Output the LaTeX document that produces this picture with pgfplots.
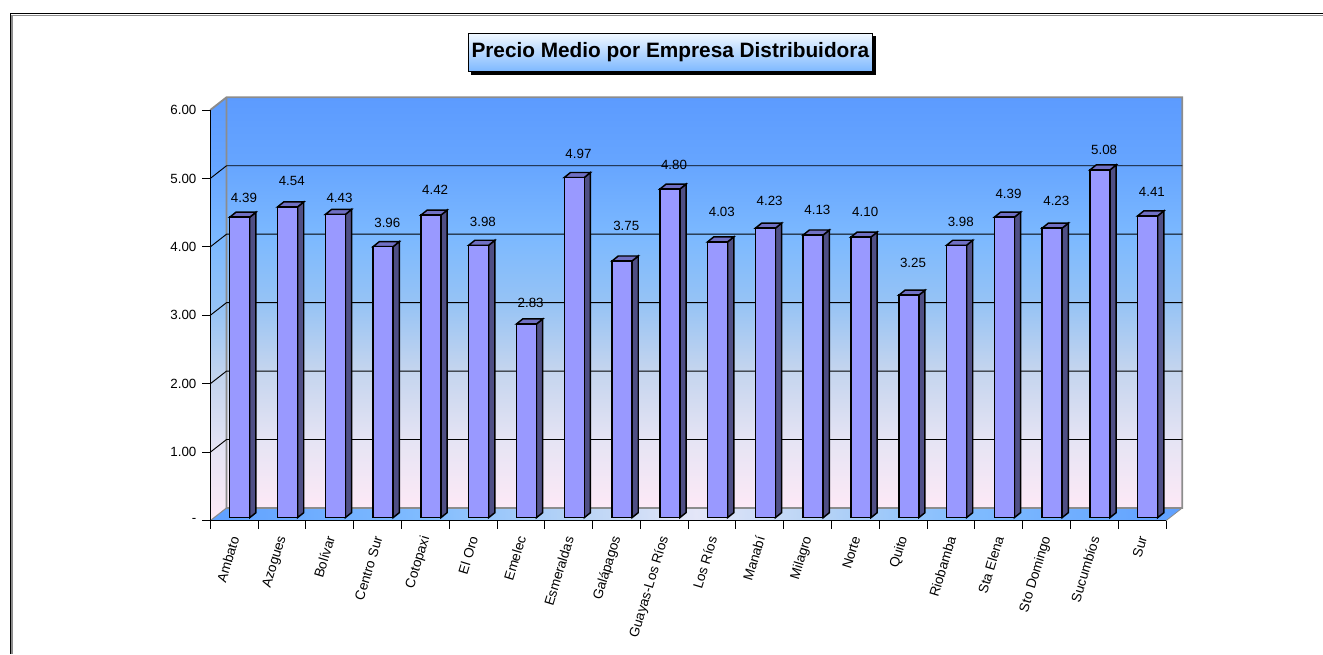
\documentclass[border=0pt]{standalone}
\usepackage{fontspec}
\setmainfont{Liberation Sans}
\usepackage{pgfplots}
\usepackage{pgfplotstable}
\pgfplotsset{compat=1.18}

\definecolor{barfront}{HTML}{9999FF}
\definecolor{barside}{HTML}{4F4F85}
\definecolor{bartop}{HTML}{7070C4}
\definecolor{wallline}{HTML}{8C8C8C}

\definecolor{wa}{RGB}{253,233,246}
\definecolor{wb}{RGB}{230,228,244}
\definecolor{wc}{RGB}{195,212,238}
\definecolor{wd}{RGB}{150,195,245}
\definecolor{we}{RGB}{124,185,255}
\definecolor{wf}{RGB}{102,165,255}
\definecolor{wg}{RGB}{92,155,255}
\definecolor{fa}{RGB}{95,160,255}
\definecolor{fb}{RGB}{128,188,255}
\definecolor{fc}{RGB}{185,212,245}
\definecolor{fd}{RGB}{228,230,248}
\definecolor{ta}{RGB}{125,184,255}
\definecolor{tb}{RGB}{240,248,255}

% stops run from 25bp (bottom of the path) to 75bp (top)
\pgfdeclareverticalshading{wall}{100bp}{
  color(0bp)=(wa); color(25bp)=(wa); color(33bp)=(wb); color(42bp)=(wc);
  color(50bp)=(wd); color(58bp)=(we); color(67bp)=(wf); color(75bp)=(wg);
  color(100bp)=(wg)}
\pgfdeclarehorizontalshading{floorband}{100bp}{
  color(0bp)=(fa); color(25bp)=(fa); color(36bp)=(fb); color(44bp)=(fc);
  color(50bp)=(fd); color(56bp)=(fc); color(64bp)=(fb); color(75bp)=(fa);
  color(100bp)=(fa)}
\pgfdeclareverticalshading{titleband}{100bp}{
  color(0bp)=(ta); color(25bp)=(ta); color(75bp)=(tb); color(100bp)=(tb)}

% x = bar index, v = value, ly = pixel row of the value label
\pgfplotstableread{
x  v    ly
0  4.39 198
1  4.54 181
2  4.43 198
3  3.96 223
4  4.42 190
5  3.98 222
6  2.83 303
7  4.97 154
8  3.75 226
9  4.80 165
10 4.03 212
11 4.23 201
12 4.13 210
13 4.10 212
14 3.25 263
15 3.98 222
16 4.39 194
17 4.23 201
18 5.08 150
19 4.41 192
}\precios

\begin{document}
\begin{tikzpicture}
  \useasboundingbox (0,0) rectangle (992.25pt,490.5pt);

  % page frame and title box, in pixel rows and columns of the reference
  \begin{scope}[x=0.75pt,y=-0.75pt,shift={(0pt,490.5pt)}]
    \draw[wallline,line width=1pt] (12,654) -- (12,15.5) -- (1323,15.5);
    \draw[black,line width=1.2pt] (10.5,654) -- (10.5,13.5) -- (1323,13.5);
    \fill[black] (471,36.5) rectangle (875.7,74.7);
    \shade[shading=titleband] (468,33.3) rectangle (872.7,71.7);
    \draw[black,line width=0.75pt] (468,33.3) rectangle (872.7,71.7);
    \node[font=\bfseries\fontsize{15.6pt}{18pt}\selectfont] at (670.3,52.5)
      {Precio Medio por Empresa Distribuidora};
  \end{scope}

  \begin{axis}[
    at={(157.7pt,100pt)}, anchor=south west,
    scale only axis, width=716.8pt, height=308pt,
    xmin=0, xmax=20, ymin=0, ymax=6,
    clip=false, axis on top,
    axis lines=left, axis line style={-,black,line width=0.9pt},
    tick align=outside, major tick length=6pt,
    tick style={black,line width=0.7pt},
    tick label style={font=\fontsize{10pt}{12pt}\selectfont},
    xtick={0,...,20},
    x tick label as interval,
    xticklabels={Ambato,Azogues,Bolívar,Centro Sur,Cotopaxi,El Oro,Emelec,
      Esmeraldas,Galápagos,Guayas-Los Ríos,Los Ríos,Manabí,Milagro,Norte,
      Quito,Riobamba,Sta Elena,Sto Domingo,Sucumbíos,Sur},
    x tick label style={rotate=73, anchor=east, inner sep=1pt, yshift=-2.3pt, xshift=-4.5pt,
      font=\fontsize{10.2pt}{12pt}\selectfont},
    ytick={0,...,6},
    yticklabels={-\hspace{10pt},1.00,2.00,3.00,4.00,5.00,6.00},
    y tick label style={inner sep=2pt,xshift=-2.2pt},
    /pgf/number format/assume math mode=true,
  ]
    % walls and floor
    \shade[shading=wall] (axis cs:0.341,0.186) rectangle (axis cs:20.341,6.186);
    \shade[shading=wall] (axis cs:0,0) -- (axis cs:0.341,0.186)
      -- (axis cs:0.341,6.186) -- (axis cs:0,6) -- cycle;
    \shade[shading=floorband] (axis cs:0,0) -- (axis cs:0.341,0.186)
      -- (axis cs:20.341,0.186) -- (axis cs:20,0) -- cycle;
    \draw[wallline,line width=1.4pt] (axis cs:0,6) -- (axis cs:0.341,6.186)
      -- (axis cs:20.341,6.186) -- (axis cs:20.341,0.186)
      -- (axis cs:0.341,0.186) -- (axis cs:0.341,6.186);
    \draw[wallline,line width=0.8pt] (axis cs:0.341,0.186) -- (axis cs:0,0);
    \draw[wallline,line width=0.6pt] (axis cs:20.341,0.186) -- (axis cs:20,0);

    % gridlines on the walls
    \pgfplotsinvokeforeach{1,...,5}{
      \addplot[black,line width=0.7pt,mark=none,forget plot] coordinates
        {(0,#1) (0.341,#1+0.186) (20.341,#1+0.186)};
    }

    % side and top faces of the bars
    \pgfplotsinvokeforeach{0,...,19}{
      \pgfplotstablegetelem{#1}{v}\of\precios
      \pgfmathsetmacro{\xa}{#1+0.408}
      \pgfmathsetmacro{\xb}{#1+0.826}
      \pgfmathsetmacro{\xc}{#1+0.956}
      \pgfmathsetmacro{\xd}{#1+0.538}
      \pgfmathsetmacro{\ya}{\pgfplotsretval+0.044}
      \pgfmathsetmacro{\yb}{\pgfplotsretval+0.117}
      \edef\caras{
        \noexpand\addplot[draw=black,line width=1.1pt,fill=barside,mark=none,forget plot]
          coordinates {(\xb,0.044) (\xc,0.117) (\xc,\yb) (\xb,\ya)} --cycle;
        \noexpand\addplot[draw=black,line width=1.1pt,fill=bartop,mark=none,forget plot]
          coordinates {(\xa,\ya) (\xb,\ya) (\xc,\yb) (\xd,\yb)} --cycle;
      }
      \caras
    }

    % front faces
    \addplot[ybar,bar width=15pt,draw=black,line width=1.1pt,fill=barfront,
      yshift=2.25pt,forget plot]
      table[x expr=\thisrow{x}+0.617,y=v] {\precios};

    % value labels
    \addplot[only marks,mark=none,forget plot,point meta=explicit,
      nodes near coords={\pgfmathprintnumber[fixed,fixed zerofill,precision=2]{\pgfplotspointmeta}},
      every node near coord/.append style={anchor=center,inner sep=0pt,
        font=\fontsize{10pt}{12pt}\selectfont}]
      table[x expr=\thisrow{x}+0.705,y expr=(520.7-\thisrow{ly})/68.45,meta=v] {\precios};
  \end{axis}
\end{tikzpicture}
\end{document}
